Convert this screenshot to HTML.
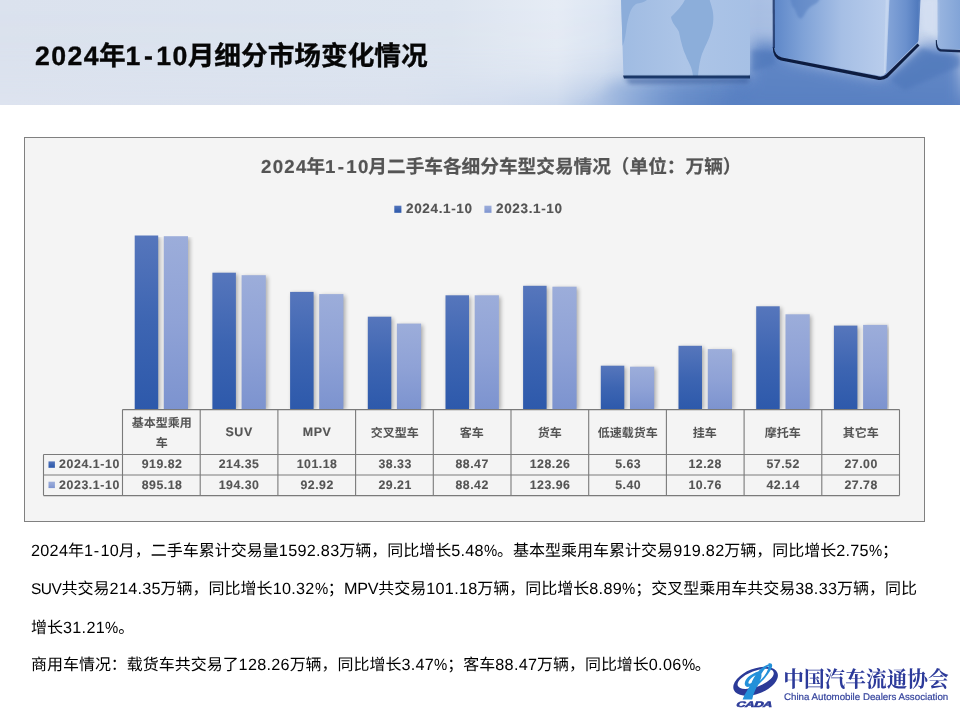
<!DOCTYPE html>
<html lang="zh-CN">
<head>
<meta charset="utf-8">
<title>2024年1-10月细分市场变化情况</title>
<style>
html,body{margin:0;padding:0}
body{width:960px;height:720px;position:relative;overflow:hidden;background:#fff;
  font-family:"Liberation Sans","Noto Sans CJK SC",sans-serif;color:#000;text-rendering:geometricPrecision}
.abs{position:absolute}
.ct,.ln,#title,#lgen{will-change:transform}
#hdr{left:0;top:0;width:960px;height:105px;overflow:hidden}
#hdr svg{display:block}
#title{left:35px;top:41px;margin:0;font-size:26.67px;line-height:30px;font-weight:bold;
  white-space:nowrap;color:#060606;-webkit-text-stroke:.35px #060606}
#title .l{letter-spacing:1.4px;margin-right:-1px}
#title .hy{margin:0 1.9px 0 2.3px}
#chart{left:24px;top:137px;width:899px;height:383px;border:1px solid #808080;background:#f4f4f4}
.ct{color:#545454;font-weight:bold;white-space:nowrap}
#ctitle{left:261px;top:155px;font-size:18.67px;line-height:24px;-webkit-text-stroke:.2px #545454}
#ctitle .l{letter-spacing:1.3px;margin-right:-1.3px}
#ctitle .hy{margin:0 .9px 0 1.1px}
.lg{top:200.5px;font-size:13.5px;line-height:16px;letter-spacing:.65px;-webkit-text-stroke:.15px #545454}
.tk{left:58.9px;margin-top:-.4px;font-size:12.3px;line-height:21px;height:21px;letter-spacing:.62px;-webkit-text-stroke:.12px #545454}
.th{top:410px;width:77.7px;height:44.4px;font-size:12px;line-height:20px;text-align:center;
  display:flex;align-items:center;justify-content:center}
.th .l{font-size:12.4px;letter-spacing:.6px;margin-right:-.6px;-webkit-text-stroke:.15px #545454}
.th span{position:relative;top:.6px}
.th span.l{top:-1.1px}
.td{width:77.7px;margin-top:-.4px;height:21px;line-height:21px;font-size:12.3px;text-align:center;letter-spacing:.5px;text-indent:.5px;-webkit-text-stroke:.12px #545454}
.ln{position:absolute;left:31.2px;margin:0;font-size:16px;line-height:20px;white-space:nowrap;color:#000}
.ln .l{font-size:16.2px;letter-spacing:.3px;margin-right:-.3px}
.ln .hy{font-weight:normal;letter-spacing:1.3px;margin-left:.55px}
.ln .pc{font-style:normal;display:inline-block;transform:scaleX(.92);transform-origin:0 50%;margin-right:-.9px;letter-spacing:0}
.cap{font-size:15.5px;letter-spacing:-.5px;margin-right:.5px}
.cap2{letter-spacing:-.2px;margin-right:.2px}
#lgcn{left:783.2px;top:670.2px;font-size:20.7px;line-height:22px;color:#2c3a9a;white-space:nowrap;transform:scaleY(1.07);transform-origin:0 50%;font-family:"Liberation Serif","Noto Serif CJK SC",serif;font-weight:bold}
#lgen{left:784.4px;top:691.8px;font-size:9.73px;line-height:11px;color:#33429c;white-space:nowrap;-webkit-text-stroke:.18px #33429c}
</style>
</head>
<body>

<!-- ================= header band ================= -->
<div id="hdr" class="abs">
<svg width="960" height="105" viewBox="0 0 960 105">
<defs>
  <linearGradient id="hbg" x1="0" y1="0" x2="960" y2="0" gradientUnits="userSpaceOnUse">
    <stop offset="0" stop-color="#dbe2ee"/>
    <stop offset=".47" stop-color="#dde5f0"/>
    <stop offset=".58" stop-color="#e6ecf5"/>
    <stop offset=".63" stop-color="#dde6f3"/>
    <stop offset=".70" stop-color="#c0d0ea"/>
    <stop offset=".79" stop-color="#a9bfe3"/>
    <stop offset=".97" stop-color="#d0dcf0"/>
  </linearGradient>
  <linearGradient id="hfl" x1="0" y1="0" x2="960" y2="0" gradientUnits="userSpaceOnUse">
    <stop offset="0" stop-color="#dde3ef"/>
    <stop offset=".42" stop-color="#dae1ee"/>
    <stop offset=".52" stop-color="#d3ddee"/>
    <stop offset=".58" stop-color="#cbd8ec"/>
    <stop offset=".625" stop-color="#adc2e3"/>
    <stop offset=".647" stop-color="#97b2dc"/>
    <stop offset=".68" stop-color="#7b9dd2"/>
    <stop offset=".705" stop-color="#6a8fca"/>
    <stop offset=".74" stop-color="#5f86c5"/>
    <stop offset=".80" stop-color="#5c83c4"/>
    <stop offset=".90" stop-color="#587fc1"/>
    <stop offset="1" stop-color="#6287c6"/>
  </linearGradient>
  <linearGradient id="hflm" x1="0" y1="0" x2="0" y2="105" gradientUnits="userSpaceOnUse">
    <stop offset="0" stop-color="#fff" stop-opacity="0"/>
    <stop offset=".45" stop-color="#fff" stop-opacity=".06"/>
    <stop offset=".68" stop-color="#fff" stop-opacity=".25"/>
    <stop offset=".85" stop-color="#fff" stop-opacity=".62"/>
    <stop offset="1" stop-color="#fff" stop-opacity="1"/>
  </linearGradient>
  <mask id="hm"><rect x="0" y="0" width="960" height="105" fill="url(#hflm)"/></mask>
  <linearGradient id="c1" x1="620" y1="0" x2="750" y2="0" gradientUnits="userSpaceOnUse">
    <stop offset="0" stop-color="#9fbbe2"/>
    <stop offset=".5" stop-color="#adc5e7"/>
    <stop offset="1" stop-color="#a6c0e5"/>
  </linearGradient>
  <linearGradient id="c2l" x1="775" y1="0" x2="886" y2="0" gradientUnits="userSpaceOnUse">
    <stop offset="0" stop-color="#5f88c9"/>
    <stop offset=".25" stop-color="#7fa2d7"/>
    <stop offset=".6" stop-color="#a6bfe5"/>
    <stop offset="1" stop-color="#b9cdec"/>
  </linearGradient>
  <linearGradient id="c2r" x1="886" y1="0" x2="920" y2="0" gradientUnits="userSpaceOnUse">
    <stop offset="0" stop-color="#86a6d9"/>
    <stop offset=".6" stop-color="#6a90cd"/>
    <stop offset="1" stop-color="#4c76ba"/>
  </linearGradient>
  <linearGradient id="c3" x1="937" y1="0" x2="960" y2="0" gradientUnits="userSpaceOnUse">
    <stop offset="0" stop-color="#9ab6e0"/>
    <stop offset="1" stop-color="#82a4d7"/>
  </linearGradient>
  <filter id="b1" x="-20%" y="-20%" width="140%" height="140%"><feGaussianBlur stdDeviation="1"/></filter>
  <filter id="b2" x="-20%" y="-50%" width="140%" height="200%"><feGaussianBlur stdDeviation="2.2"/></filter>
  <filter id="b6" x="-30%" y="-80%" width="160%" height="260%"><feGaussianBlur stdDeviation="7"/></filter>
  <filter id="b05" x="-10%" y="-10%" width="120%" height="120%"><feGaussianBlur stdDeviation=".6"/></filter>
</defs>
<rect width="960" height="105" fill="url(#hbg)"/>
<rect width="960" height="105" fill="url(#hfl)" mask="url(#hm)"/>
<!-- floor under cube 1 -->
<path d="M612 84 L752 80 L752 116 L586 116Z" fill="url(#hfl)" filter="url(#b6)" opacity=".9"/>
<!-- soft floor shadows -->
<g filter="url(#b6)" fill="#5880c2" opacity=".9">
  <path d="M753 42 L775 42 L790 60 L880 80 L925 44 L960 48 L960 112 L720 112 L728 88 L750 82Z"/>
</g>
<g filter="url(#b2)" fill="#4c74b8" opacity=".55">
  <path d="M752 50 L775 52 L775 64 L752 72Z"/>
  <path d="M890 80 L922 48 L936 54 L960 56 L960 66 L905 90Z"/>
</g>
<!-- cube 1 -->
<path d="M621 -2 L750 -2 L750 73.5 Q750 76 747.5 76 L626 76 Q623.5 76 623.4 73.5Z" fill="url(#c1)"/>
<g fill="#8badda" filter="url(#b05)" opacity=".95">
  <path d="M686 -2 C682 6 676 12 671 17 C672 24 677 27 679 32 C681 42 683 50 686 56 C688 62 692 66 693 76 L698 76 C699 66 700 60 702 54 C705 46 709 40 711 32 C714 24 714 14 712 8 C711 4 710 1 709 -2Z"/>
  <path d="M621 -2 L649 -2 C646 2 640 3 636 4 C630 8 629 16 627 24 C626 32 625 40 622.6 46Z"/>
</g>
<path d="M623 75.4 L750 75.4 L750 78.4 L624 78.6Z" fill="#17305f" filter="url(#b05)"/>
<path d="M624 78 L750 77.6 L748 83 L630 84Z" fill="#2d5295" opacity=".55" filter="url(#b2)"/>
<!-- cube 2 -->
<path d="M774.4 -2 L888.5 -2 L885 74 Q882 77 877 75.2 L782 57 Q775 55 774.6 48Z" fill="url(#c2l)"/>
<path d="M888.5 -2 L920.6 -2 L918.5 40 Q918.3 42 916.5 43.6 L885 74Z" fill="url(#c2r)"/>
<path d="M885.8 -2 L889.5 -2 L886.2 73 L883.8 73Z" fill="#c9d9f1" opacity=".8" filter="url(#b05)"/>
<g fill="#4f79bd" opacity=".5" filter="url(#b1)">
  <path d="M790 -2 L820 -2 C818 5 812 4 808 9 C804 14 803 20 799 18 C796 15 796 9 792 6Z"/>
</g>
<path d="M774 47 Q774.5 55.5 782 57.6 L877 76 Q882.5 77.8 886 74.6 L917.5 43.5 L919.5 45.5 L887.6 77.6 Q883 81 876.5 79.4 L781 60.6 Q772.6 58 772.8 47Z" fill="#0c1c40" filter="url(#b05)"/>
<path d="M772.6 -2 L774.8 -2 L775 48 L772.8 48Z" fill="#1a3468" opacity=".85" filter="url(#b05)"/>
<!-- cube 3 -->
<path d="M937.4 -2 L962 -2 L962 49 L941 48.4 Q937.8 48 937.6 45Z" fill="url(#c3)"/>
<path d="M936.8 40 Q937 48.6 941 49.2 L962 50 L962 52.6 L940 51.6 Q935.4 50.6 935.8 40Z" fill="#13284f" filter="url(#b05)"/>
<!-- bright strip between cubes 2 and 3 -->
<path d="M921.5 0 L936.5 0 L936.5 36 L922 30Z" fill="#d5e0f2" opacity=".75" filter="url(#b2)"/>
</svg>

</div>
<h1 id="title" class="abs"><span class="l">2024</span>年<span class="l">1<b class="hy">-</b>10</span>月细分市场变化情况</h1>

<!-- ================= chart ================= -->
<div id="chart" class="abs"></div>
<svg id="plot" class="abs" width="960" height="720" viewBox="0 0 960 720" style="left:0;top:0">
<defs>
<linearGradient id="gA" x1="0" y1="0" x2="0" y2="1"><stop offset="0" stop-color="#5676bc"/><stop offset=".5" stop-color="#3d65b2"/><stop offset="1" stop-color="#2d59ab"/></linearGradient>
<linearGradient id="gB" x1="0" y1="0" x2="0" y2="1"><stop offset="0" stop-color="#9cadda"/><stop offset=".5" stop-color="#8fa2d6"/><stop offset="1" stop-color="#7c93cf"/></linearGradient>
<filter id="bs" x="-40%" y="-10%" width="200%" height="120%"><feGaussianBlur stdDeviation="2.1"/></filter>
</defs>
<g fill="#000" opacity=".3" filter="url(#bs)" clip-path="inset(0)"><rect x="136.5" y="237.0" width="23.5" height="172.8"/><rect x="165.7" y="237.7" width="24.2" height="172.1"/><rect x="214.2" y="274.2" width="23.5" height="135.6"/><rect x="243.4" y="276.7" width="24.2" height="133.1"/><rect x="291.9" y="293.4" width="23.5" height="116.4"/><rect x="321.1" y="295.6" width="24.2" height="114.2"/><rect x="369.6" y="318.2" width="23.5" height="91.6"/><rect x="398.8" y="325.1" width="24.2" height="84.7"/><rect x="447.3" y="296.8" width="23.5" height="113.0"/><rect x="476.5" y="296.8" width="24.2" height="113.0"/><rect x="524.9" y="287.3" width="23.5" height="122.5"/><rect x="554.1" y="288.2" width="24.2" height="121.6"/><rect x="602.6" y="367.2" width="23.5" height="42.6"/><rect x="631.8" y="368.2" width="24.2" height="41.6"/><rect x="680.3" y="347.3" width="23.5" height="62.5"/><rect x="709.5" y="350.6" width="24.2" height="59.2"/><rect x="758.0" y="307.8" width="23.5" height="102.0"/><rect x="787.2" y="315.8" width="24.2" height="94.0"/><rect x="835.7" y="327.1" width="23.5" height="82.7"/><rect x="864.9" y="326.4" width="24.2" height="83.4"/></g>
<rect x="100" y="409.8" width="820" height="8" fill="#f4f4f4"/>
<rect x="134.7" y="235.5" width="23.5" height="174.3" fill="url(#gA)"/><rect x="163.8" y="236.2" width="24.2" height="173.6" fill="url(#gB)"/><rect x="212.4" y="272.7" width="23.5" height="137.1" fill="url(#gA)"/><rect x="241.6" y="275.2" width="24.2" height="134.6" fill="url(#gB)"/><rect x="290.1" y="291.9" width="23.5" height="117.9" fill="url(#gA)"/><rect x="319.2" y="294.1" width="24.2" height="115.7" fill="url(#gB)"/><rect x="367.8" y="316.7" width="23.5" height="93.1" fill="url(#gA)"/><rect x="396.9" y="323.6" width="24.2" height="86.2" fill="url(#gB)"/><rect x="445.5" y="295.3" width="23.5" height="114.5" fill="url(#gA)"/><rect x="474.7" y="295.3" width="24.2" height="114.5" fill="url(#gB)"/><rect x="523.1" y="285.8" width="23.5" height="124.0" fill="url(#gA)"/><rect x="552.4" y="286.7" width="24.2" height="123.1" fill="url(#gB)"/><rect x="600.8" y="365.7" width="23.5" height="44.1" fill="url(#gA)"/><rect x="630.0" y="366.7" width="24.2" height="43.1" fill="url(#gB)"/><rect x="678.5" y="345.8" width="23.5" height="64.0" fill="url(#gA)"/><rect x="707.8" y="349.1" width="24.2" height="60.7" fill="url(#gB)"/><rect x="756.2" y="306.3" width="23.5" height="103.5" fill="url(#gA)"/><rect x="785.5" y="314.3" width="24.2" height="95.5" fill="url(#gB)"/><rect x="833.9" y="325.6" width="23.5" height="84.2" fill="url(#gA)"/><rect x="863.1" y="324.9" width="24.2" height="84.9" fill="url(#gB)"/>
<path d="M122.5 409.6H899.5M43.5 454.5H899.5M43.5 475.0H899.5M43.5 495.6H899.5M43.5 454.5V495.6M122.5 409.6V495.6M200.2 409.6V495.6M277.9 409.6V495.6M355.6 409.6V495.6M433.3 409.6V495.6M511.0 409.6V495.6M588.7 409.6V495.6M666.4 409.6V495.6M744.1 409.6V495.6M821.8 409.6V495.6M899.5 409.6V495.6" fill="none" stroke="#7a7a7a" stroke-width="1.1"/>
<rect x="394.3" y="205.7" width="7.1" height="7.1" fill="url(#gA)"/>
<rect x="484.4" y="205.7" width="7.1" height="7.1" fill="url(#gB)"/>
<rect x="48.5" y="461.4" width="6.4" height="6.4" fill="url(#gA)"/>
<rect x="48.5" y="481.7" width="6.4" height="6.4" fill="url(#gB)"/>
</svg>
<div id="ctitle" class="abs ct"><span class="l">2024</span>年<span class="l">1<b class="hy">-</b>10</span>月二手车各细分车型交易情况（单位：万辆）</div>
<div class="abs ct lg" style="left:405.5px">2024.1-10</div>
<div class="abs ct lg" style="left:496.2px">2023.1-10</div>
<div class="abs ct tk" style="top:454.5px">2024.1-10</div>
<div class="abs ct tk" style="top:475.0px">2023.1-10</div>
<div class="abs ct th" style="left:122.5px"><span>基本型乘用<br>车</span></div>
<div class="abs ct td" style="left:122.5px;top:454.5px">919.82</div>
<div class="abs ct td" style="left:122.5px;top:475.0px">895.18</div>
<div class="abs ct th" style="left:200.2px"><span><span class="l">SUV</span></span></div>
<div class="abs ct td" style="left:200.2px;top:454.5px">214.35</div>
<div class="abs ct td" style="left:200.2px;top:475.0px">194.30</div>
<div class="abs ct th" style="left:277.9px"><span><span class="l">MPV</span></span></div>
<div class="abs ct td" style="left:277.9px;top:454.5px">101.18</div>
<div class="abs ct td" style="left:277.9px;top:475.0px">92.92</div>
<div class="abs ct th" style="left:355.6px"><span>交叉型车</span></div>
<div class="abs ct td" style="left:355.6px;top:454.5px">38.33</div>
<div class="abs ct td" style="left:355.6px;top:475.0px">29.21</div>
<div class="abs ct th" style="left:433.3px"><span>客车</span></div>
<div class="abs ct td" style="left:433.3px;top:454.5px">88.47</div>
<div class="abs ct td" style="left:433.3px;top:475.0px">88.42</div>
<div class="abs ct th" style="left:511.0px"><span>货车</span></div>
<div class="abs ct td" style="left:511.0px;top:454.5px">128.26</div>
<div class="abs ct td" style="left:511.0px;top:475.0px">123.96</div>
<div class="abs ct th" style="left:588.7px"><span>低速载货车</span></div>
<div class="abs ct td" style="left:588.7px;top:454.5px">5.63</div>
<div class="abs ct td" style="left:588.7px;top:475.0px">5.40</div>
<div class="abs ct th" style="left:666.4px"><span>挂车</span></div>
<div class="abs ct td" style="left:666.4px;top:454.5px">12.28</div>
<div class="abs ct td" style="left:666.4px;top:475.0px">10.76</div>
<div class="abs ct th" style="left:744.1px"><span>摩托车</span></div>
<div class="abs ct td" style="left:744.1px;top:454.5px">57.52</div>
<div class="abs ct td" style="left:744.1px;top:475.0px">42.14</div>
<div class="abs ct th" style="left:821.8px"><span>其它车</span></div>
<div class="abs ct td" style="left:821.8px;top:454.5px">27.00</div>
<div class="abs ct td" style="left:821.8px;top:475.0px">27.78</div>

<!-- ================= body text ================= -->
<div id="para" class="abs">
<p class="ln" style="top:540.5px"><span class="l">2024</span>年<span class="l">1<b class="hy">-</b>10</span>月，二手车累计交易量<span class="l">1592.83</span>万辆，同比增长<span class="l">5.48<i class="pc">%</i></span>。基本型乘用车累计交易<span class="l">919.82</span>万辆，同比增长<span class="l">2.75<i class="pc">%</i></span>；</p>
<p class="ln" style="top:579.2px"><span class="l"><span class="cap">SUV</span></span>共交易<span class="l">214.35</span>万辆，同比增长<span class="l">10.32<i class="pc">%</i></span>；<span class="l"><span class="cap2">MPV</span></span>共交易<span class="l">101.18</span>万辆，同比增长<span class="l">8.89<i class="pc">%</i></span>；交叉型乘用车共交易<span class="l">38.33</span>万辆，同比</p>
<p class="ln" style="top:618px">增长<span class="l">31.21<i class="pc">%</i></span>。</p>
<p class="ln" style="top:655.1px;left:30.7px;font-size:15.97px">商用车情况：载货车共交易了<span class="l">128.26</span>万辆，同比增长<span class="l">3.47<i class="pc">%</i></span>；客车<span class="l">88.47</span>万辆，同比增长<span class="l">0.06<i class="pc">%</i></span>。</p>
</div>


<!-- ================= logo ================= -->
<svg id="emblem" class="abs" style="left:728px;top:658px" width="56" height="54" viewBox="728 658 56 54">
  <g transform="rotate(-21 755.6 681.3)">
    <path fill="#2b3a98" fill-rule="evenodd" d="M732.2 681.3a23.4 12.6 0 1 0 46.8 0a23.4 12.6 0 1 0 -46.8 0Z M737.4 679.1a19.1 7.9 0 1 1 38.2 0a19.1 7.9 0 1 1 -38.2 0Z"/>
  </g>
  <g fill="#2390d9">
    <path d="M768.4 663.6 C771 662.6 772.8 664 772 666.8 C770 673 764 679.5 758.5 684.5 C755.5 688.5 753.4 694 752.2 699.4 L742.6 699.6 C745.4 692.8 748.6 688.4 749.6 686.6 C746.6 687.6 744.4 686 744.8 683 C745.6 678 752 673.6 758.2 671.6 C761 668.2 764.8 665.4 768.6 664.2Z
             M768.6 666 C765.6 667.8 763 670.8 761.3 674 C761.9 676.4 761 679.4 759.5 681.2 C764 677 768.3 671.2 768.6 666Z
             M755.6 675.2 C751.8 677 748.8 680 748.4 682.6 C748.2 684 749.6 684.2 751.4 683 C752.4 680.4 753.8 677.6 755.6 675.2Z" fill-rule="evenodd"/>
  </g>
  <text x="0" y="0" transform="translate(735.6 706.9) skewX(-22) scale(1.6 1)" font-family="Liberation Sans, sans-serif" font-weight="bold" font-size="8" fill="#2b3a98" stroke="#2b3a98" stroke-width=".55" letter-spacing="-.2">CADA</text>
</svg>
<div id="lgcn" class="abs">中国汽车流通协会</div>
<div id="lgen" class="abs">China Automobile Dealers Association</div>


</body>
</html>
